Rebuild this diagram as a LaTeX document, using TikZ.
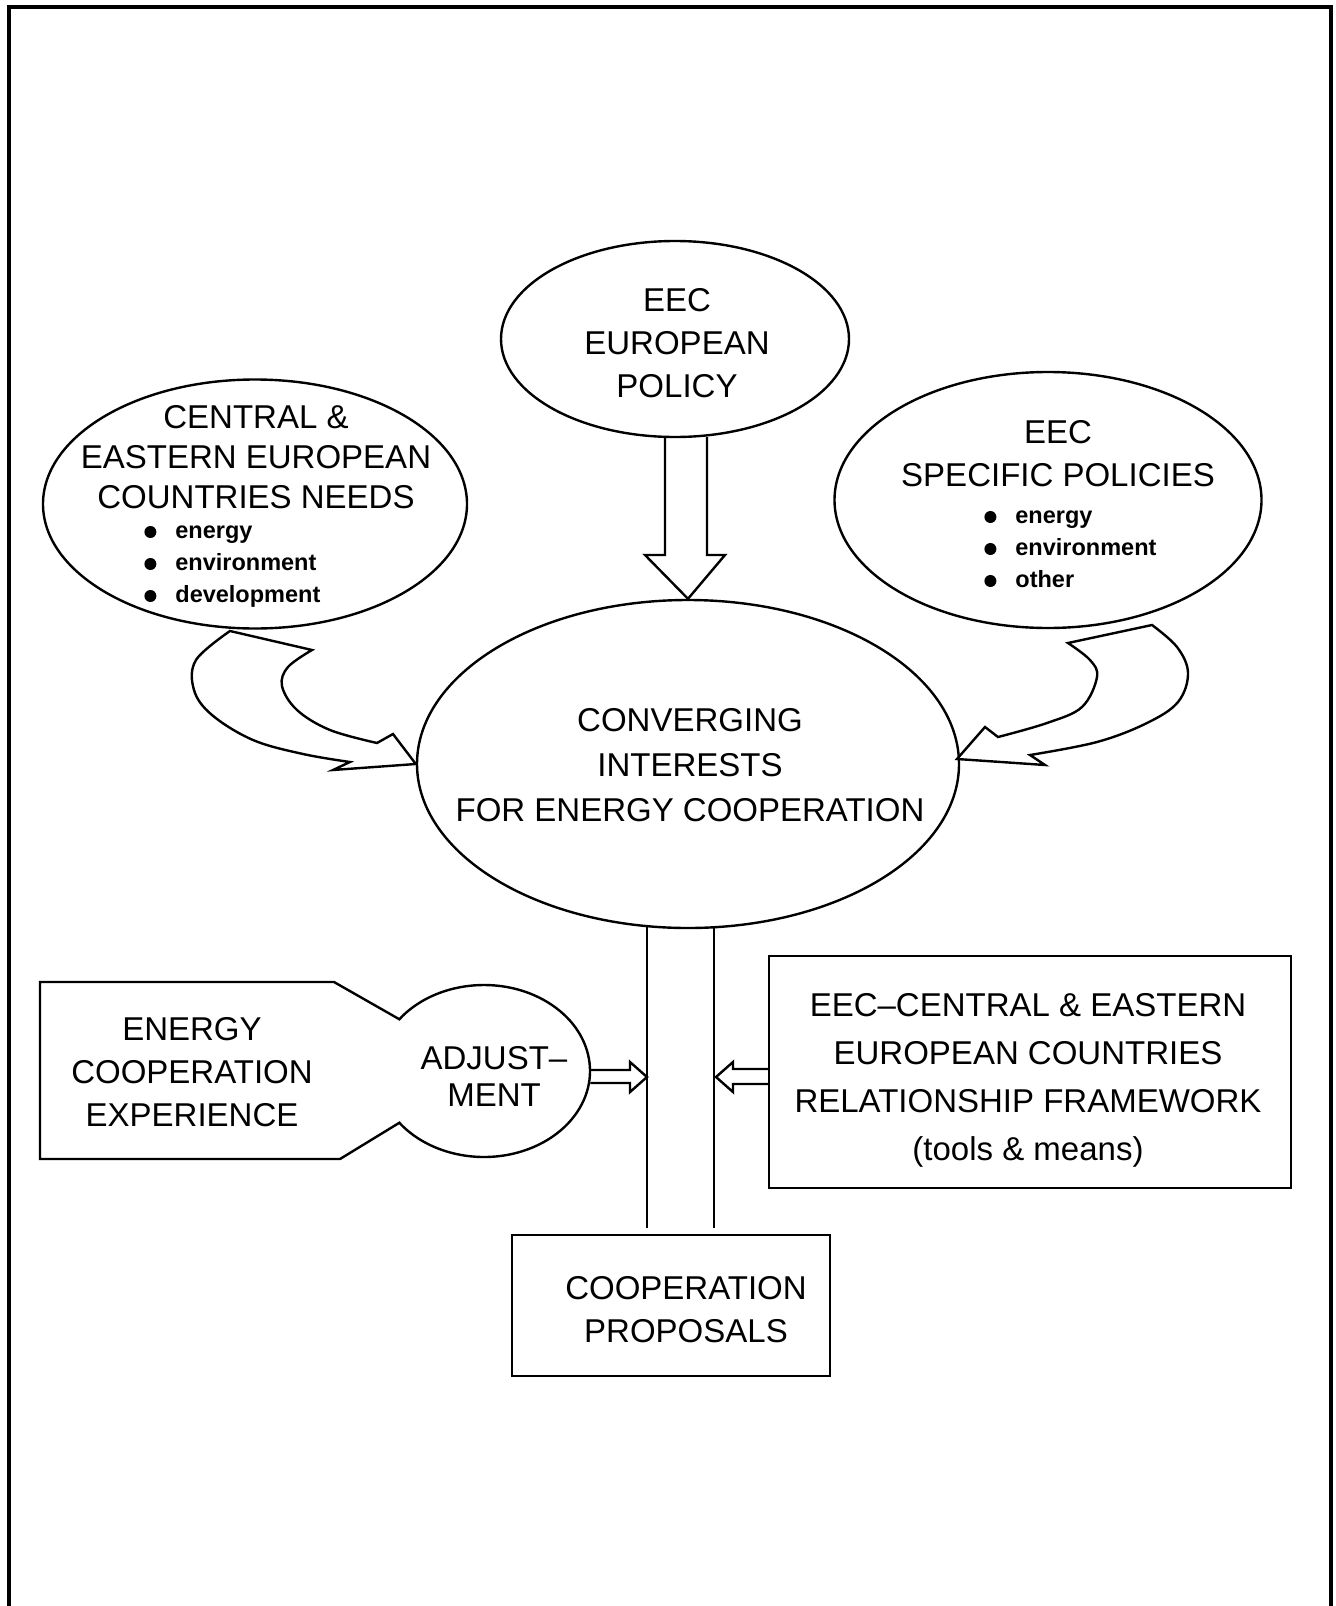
\documentclass[tikz,border=0pt]{standalone}
\usepackage{fontspec}
\setmainfont{Liberation Sans}
\usetikzlibrary{calc,shapes.geometric}
\newcommand{\itemdot}{\tikz[baseline=-3pt]\fill (0,0) circle (3pt);\hspace{9.5pt}}
\tikzset{
  blob/.style={ellipse, draw, line width=1.2pt, inner sep=0pt},
  panel/.style={rectangle, draw, line width=1.2pt, inner sep=0pt},
  caps/.style={font=\fontsize{16.5}{21.5}\selectfont, align=center, inner sep=0pt},
  items/.style={font=\bfseries\fontsize{11.75}{16}\selectfont, align=left, inner sep=0pt, anchor=base west},
  hollow/.style={draw, line width=1.2pt, line join=miter}
}

\begin{document}
\begin{tikzpicture}[x=0.5pt, y=-0.5pt]
  \useasboundingbox (0,0) rectangle (1336,1606);
  % open frame, runs off the bottom of the page
  \draw[line width=2.2pt] (9,1606) -- (9,7) -- (1331,7) -- (1331,1606);

  % the four ellipses
  \node[blob, minimum width=174pt, minimum height=98pt] (policy) at (675,339) {};
  \node[blob, minimum width=212pt, minimum height=124.5pt] (needs) at (255,504) {};
  \node[blob, minimum width=213.5pt, minimum height=128pt] (specific) at (1048,500) {};
  \node[blob, minimum width=271pt, minimum height=164pt] (conv) at (688,764) {};

  \node[caps] (policy-t) at (677,343) {EEC\\EUROPEAN\\POLICY};
  \node[caps, font=\fontsize{16.5}{20}\selectfont] (needs-t) at (256,457)
    {CENTRAL \&\\EASTERN EUROPEAN\\COUNTRIES NEEDS};
  % base anchor sits on the last line
  \node[items] (needs-l) at (144,602)
    {\itemdot energy\\\itemdot environment\\\itemdot development};
  \node[caps] (specific-t) at (1058,454) {EEC\\SPECIFIC POLICIES};
  \node[items] (specific-l) at (984,587)
    {\itemdot energy\\\itemdot environment\\\itemdot other};
  \node[caps, font=\fontsize{16.5}{22.5}\selectfont] (conv-t) at (690,765)
    {CONVERGING\\INTERESTS\\FOR ENERGY COOPERATION};

  % experience box with the adjustment bulge
  \node[ellipse, minimum width=106pt, minimum height=86pt, inner sep=0pt] (adj) at (484,1071) {};
  \draw[line width=1.2pt] (40,982) -- (334,982)
    -- ($(adj.center)+(143:53pt and 43pt)$)
    arc[start angle=143, end angle=-143, x radius=53pt, y radius=43pt]
    -- (340,1159) -- (40,1159) -- cycle;
  \node[caps] (exper-t) at (192,1072) {ENERGY\\COOPERATION\\EXPERIENCE};
  \node[caps, font=\fontsize{16.5}{18.5}\selectfont] (adj-t) at (494,1076) {ADJUST–\\MENT};

  % boxes
  \node[panel, minimum width=261pt, minimum height=116pt] (rel) at (1030,1072) {};
  \node[caps, font=\fontsize{16.5}{24}\selectfont] (rel-t) at (1028,1080)
    {EEC–CENTRAL \& EASTERN\\EUROPEAN COUNTRIES\\RELATIONSHIP FRAMEWORK\\(tools \& means)};
  \node[panel, minimum width=159pt, minimum height=70.5pt] (prop) at (671,1305.5) {};
  \node[caps] (prop-t) at (686,1310) {COOPERATION\\PROPOSALS};

  % channel down to the proposals
  \coordinate (chanL) at (647,926);
  \coordinate (chanR) at (714,926);
  \coordinate (chanLb) at (647,1228);
  \coordinate (chanRb) at (714,1228);
  \draw[line width=1.2pt] (chanL) -- (chanLb);
  \draw[line width=1.2pt] (chanR) -- (chanRb);

  % hollow arrows
  \draw[hollow] (665,437) -- (665,555) -- (645,555) -- (conv.north) -- (725,555) -- (707,555) -- (707,437);
  \draw[hollow] (adj.east |- 0,1070) -- (630,1070) -- (630,1062) -- (647,1077)
    -- (630,1092) -- (630,1083) -- (adj.east |- 0,1083);
  \draw[hollow] (rel.west |- 0,1069) -- (733,1069) -- (733,1062) -- (716,1077)
    -- (733,1092) -- (733,1084) -- (rel.west |- 0,1084);

  % curved arrows into the converging ellipse
  \draw[hollow] (230,631)
    -- plot[smooth, tension=0.6] coordinates {(230,631) (196,660) (194,690) (212,715) (253,740) (303,754) (350,762)}
    -- (333,770) -- (conv.west) -- (393,734) -- (377,743)
    -- plot[smooth, tension=0.6] coordinates {(377,743) (330,730) (297,710) (282,686) (288,667) (312,650)}
    -- cycle;
  \draw[hollow] (1152,625)
    -- plot[smooth, tension=0.6] coordinates {(1152,625) (1177,647) (1188,673) (1178,702) (1147,723) (1097,742) (1030,755)}
    -- (1045,765) -- (957,759) -- (985,727) -- (998,737)
    -- plot[smooth, tension=0.6] coordinates {(998,737) (1047,723) (1082,707) (1097,677) (1090,660) (1068,643)}
    -- cycle;
\end{tikzpicture}
\end{document}
